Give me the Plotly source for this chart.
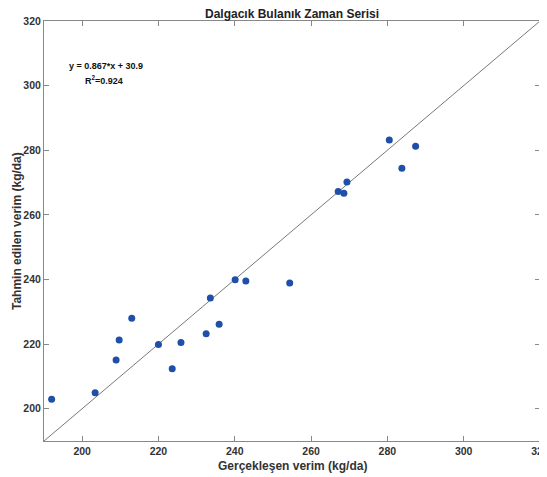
import plotly.graph_objects as go

# Observed (x) vs predicted (y) yields
actual = [192.0, 203.4, 208.9, 209.7, 213.0, 220.0, 223.6, 225.9, 232.5, 235.9,
          233.6, 240.1, 242.9, 254.4, 267.1, 268.6, 269.4, 280.5, 283.8, 287.4]
predicted = [202.9, 204.9, 215.1, 221.3, 228.0, 219.9, 212.4, 220.5, 223.2, 226.1,
             234.3, 239.9, 239.5, 238.9, 267.2, 266.7, 270.2, 283.2, 274.4, 281.2]

ref_line = [190, 320]
tick_vals = [200, 220, 240, 260, 280, 300, 320]
axis_range = [190, 320]

title_text = "Dalgacık Bulanık Zaman Serisi"
x_title = "Gerçekleşen verim (kg/da)"
y_title = "Tahmin edilen verim (kg/da)"
eq_text = "y = 0.867*x + 30.9"
r2_text = "R<sup>2</sup>=0.924"

FONT = "Liberation Sans, Arial, sans-serif"

fig = go.Figure()
fig.add_trace(go.Scatter(x=ref_line, y=ref_line, mode="lines",
                         line=dict(color="#555555", width=0.8),
                         hoverinfo="skip", showlegend=False))
fig.add_trace(go.Scatter(x=actual, y=predicted, mode="markers",
                         marker=dict(color="#1f4fa8", size=7),
                         showlegend=False))

axis_common = dict(
    range=axis_range, tickvals=tick_vals, ticks="inside", ticklen=5,
    tickcolor="#888888", showline=True, linecolor="#888888", linewidth=1,
    mirror="ticks", showgrid=False, zeroline=False, automargin=False,
    ticklabeloverflow="allow",
    tickfont=dict(family=FONT, size=10.5, color="#333333", weight="bold"),
)

label_font = dict(family=FONT, size=12, color="#333333", weight="bold")

# page body adds an 8px offset, so the figure is 8px smaller on each leading side
fig.update_layout(
    width=539, height=469,
    margin=dict(l=36, r=7, t=13, b=36, autoexpand=False),
    paper_bgcolor="white", plot_bgcolor="white",
    xaxis=dict(**axis_common),
    yaxis=dict(**axis_common),
    annotations=[
        dict(x=0.5, y=1.0167, xref="paper", yref="paper", text=title_text,
             showarrow=False, xanchor="center", yanchor="middle",
             font=dict(family=FONT, size=12, color="#222222", weight="bold")),
        dict(x=0.5, y=-0.0595, xref="paper", yref="paper", text=x_title,
             showarrow=False, xanchor="center", yanchor="middle", font=label_font),
        dict(x=-0.0544, y=0.5, xref="paper", yref="paper", text=y_title,
             showarrow=False, xanchor="center", yanchor="middle", textangle=-90,
             font=label_font),
        dict(x=196, y=306.1, xref="x", yref="y", text=eq_text, showarrow=False,
             xanchor="left", yanchor="middle",
             font=dict(family=FONT, size=9, color="#111111", weight="bold")),
        dict(x=205.7, y=301.7, xref="x", yref="y", text=r2_text, showarrow=False,
             xanchor="center", yanchor="middle",
             font=dict(family=FONT, size=9, color="#111111", weight="bold")),
    ],
)

fig.write_html("out.html")
